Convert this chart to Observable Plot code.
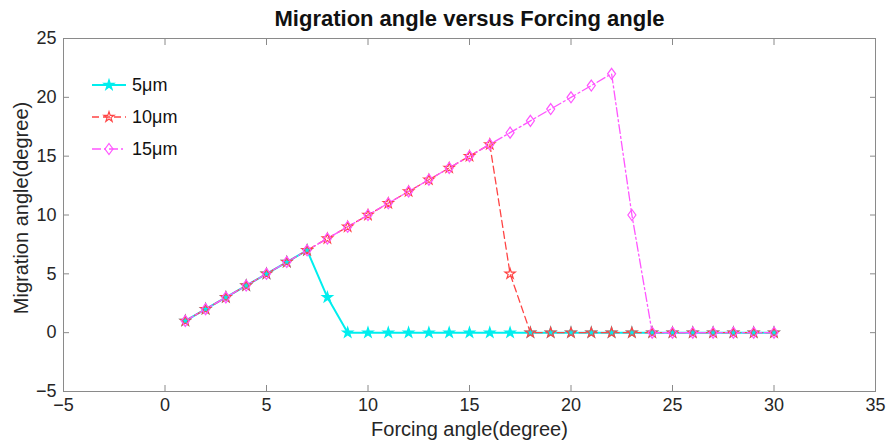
<!DOCTYPE html>
<html><head><meta charset="utf-8">
<script src="https://cdn.jsdelivr.net/npm/d3@7"></script>
<script src="https://cdn.jsdelivr.net/npm/@observablehq/plot@0.6"></script>
<style>
body{margin:0;background:#fff;font-family:"Liberation Sans",Arial,sans-serif}
#wrap{position:relative;width:886px;height:443px}
#legend{position:absolute;left:88px;top:73px}
</style>
</head><body><div id="wrap"><div id="legend"></div></div>
<script>
const forcing = [1,2,3,4,5,6,7,8,9,10,11,12,13,14,15,16,17,18,19,20,21,22,23,24,25,26,27,28,29,30];
const mig5  = [1,2,3,4,5,6,7,3,0,0,0,0,0,0,0,0,0,0,0,0,0,0,0,0,0,0,0,0,0,0];
const mig10 = [1,2,3,4,5,6,7,8,9,10,11,12,13,14,15,16,5,0,0,0,0,0,0,0,0,0,0,0,0,0];
const mig15 = [1,2,3,4,5,6,7,8,9,10,11,12,13,14,15,16,17,18,19,20,21,22,10,0,0,0,0,0,0,0];
const seriesNames = ["5μm","10μm","15μm"];
const xTicks = [-5,0,5,10,15,20,25,30,35];
const yTicks = [-5,0,5,10,15,20,25];
const titleText = "Migration angle versus Forcing angle";
const xLabel = "Forcing angle(degree)";
const yLabel = "Migration angle(degree)";

const colors = ["#00eeee","#ff4444","#ff55ff"];
const dashes = [null,"7,4","9,3,2,3"];
const fills = ["#00eeee","none","none"];

// MATLAB-like diamond: width 8, height 11 (size-independent)
const matDiamond = {draw(ctx){ ctx.moveTo(0,-5.5); ctx.lineTo(4,0); ctx.lineTo(0,5.5); ctx.lineTo(-4,0); ctx.closePath(); }};
const symbols = [d3.symbolStar, d3.symbolStar, matDiamond];
const radii = [3.2,3.2,3];

const seriesVals = [mig5, mig10, mig15];
const tables = seriesVals.map((vals,i)=>forcing.map((x,j)=>({x, y: vals[j], s: seriesNames[i]})));

const axisStroke = "#8a8a8a";
const textColor = "#262626";
const font = '"Liberation Sans",Arial,sans-serif';

const marks = [
  Plot.frame({stroke: axisStroke}),
  Plot.axisX(xTicks, {anchor:"bottom", tickSize:-6, tickPadding:13, stroke:axisStroke, fill:textColor, label:null, fontSize:18}),
  Plot.axisX(xTicks, {anchor:"top", tickSize:-6, tickFormat:()=>"", stroke:axisStroke, label:null}),
  Plot.axisY(yTicks, {anchor:"left", tickSize:-6, tickPadding:13, stroke:axisStroke, fill:textColor, label:null, fontSize:18}),
  Plot.axisY(yTicks, {anchor:"right", tickSize:-6, tickFormat:()=>"", stroke:axisStroke, label:null}),
];
tables.forEach((t,i)=>{
  marks.push(Plot.line(t, {x:"x", y:"y", stroke:colors[i], strokeWidth: i===0?2:1.3, strokeDasharray: dashes[i]}));
});
tables.forEach((t,i)=>{
  marks.push(Plot.dot(t, {x:"x", y:"y", symbol:()=>symbols[i], r:radii[i], stroke:colors[i], fill:fills[i], strokeWidth:1.2}));
});
marks.push(
  Plot.text([titleText], {frameAnchor:"top", dy:-20, text:d=>d, fontWeight:"bold", fontSize:22, fill:"#111", lineAnchor:"middle"}),
  Plot.text([xLabel], {frameAnchor:"bottom", dy:38, text:d=>d, fontSize:20, fill:textColor, lineAnchor:"middle", textAnchor:"middle"}),
  Plot.text([yLabel], {frameAnchor:"left", dx:-42, dy:-7, rotate:-90, text:d=>d, fontSize:20, fill:textColor, lineAnchor:"middle", textAnchor:"middle"})
);

const chart = Plot.plot({
  width:886, height:443,
  marginLeft:63, marginRight:11, marginTop:38, marginBottom:52,
  x:{domain:[-5,35]},
  y:{domain:[-5,25]},
  symbol:{type:"identity"},
  style:{fontFamily:font, fontSize:"18px", background:"#fff"},
  marks
});
document.getElementById("wrap").prepend(chart);

// Legend
const lg = d3.select("#legend").append("svg").attr("width",140).attr("height",96)
  .style("font-family",font).style("font-size","18px");
seriesNames.forEach((name,i)=>{
  const g = lg.append("g").attr("transform",`translate(0,${12+i*32})`);
  g.append("line").attr("x1",4).attr("x2",38).attr("y1",0).attr("y2",0)
    .attr("stroke",colors[i]).attr("stroke-width",i===0?2:1.3).attr("stroke-dasharray",dashes[i]);
  const size = Math.PI*radii[i]*radii[i];
  g.append("path").attr("d",d3.symbol(symbols[i],size)()).attr("transform","translate(21,0)")
    .attr("stroke",colors[i]).attr("fill",fills[i]).attr("stroke-width",1.2);
  g.append("text").attr("x",44).attr("y",0).attr("dy","0.35em").attr("fill","#111").text(name);
});
</script>
</body></html>
